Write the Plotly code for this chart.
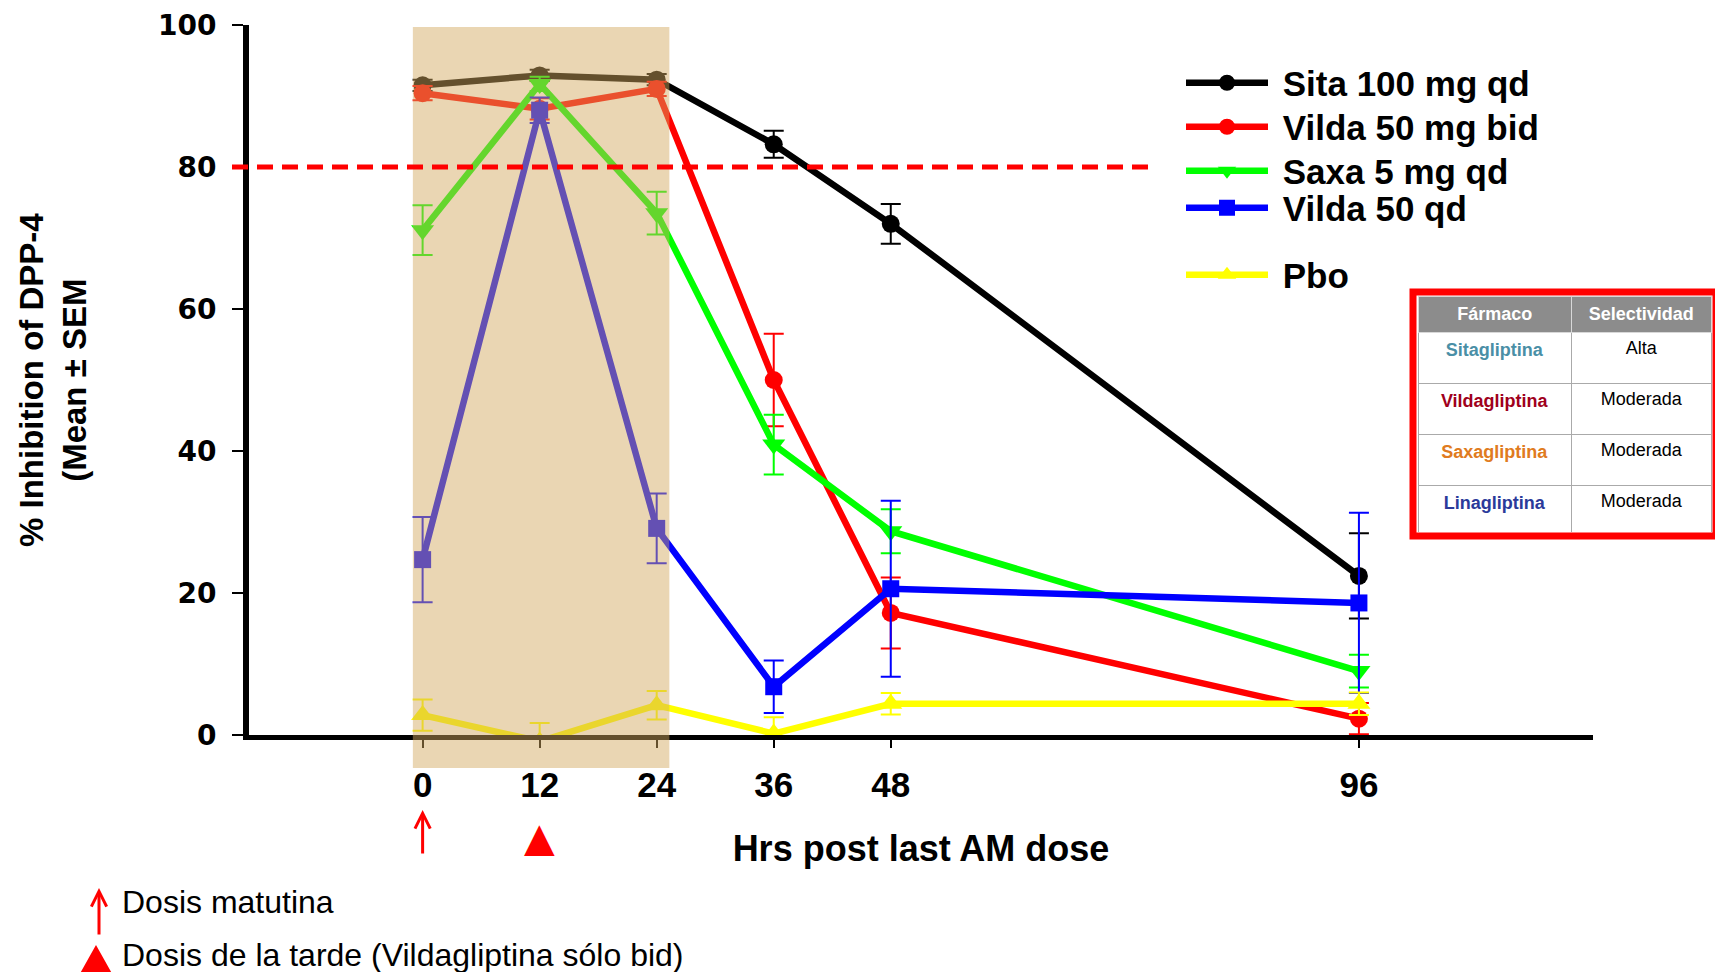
import plotly.graph_objects as go

# ---------------- data ----------------
hours = [0, 12, 24, 36, 48, 96]
x_tick_vals = [0, 12, 24, 36, 48, 96]
y_tick_vals = [0, 20, 40, 60, 80, 100]

sita = [91.5, 92.9, 92.3, 83.2, 72.0, 22.4]
sita_sem = [0.8, 0.8, 0.8, 1.9, 2.8, 6.0]
vilda_bid = [90.4, 88.2, 91.0, 50.0, 17.2, 2.3]
vilda_bid_sem = [1.0, 1.5, 1.0, 6.5, 5.0, 2.2]
saxa = [71.1, 91.7, 73.5, 40.9, 28.7, 9.0]
saxa_sem = [3.5, 1.0, 3.0, 4.2, 3.1, 2.3]
vilda_qd = [24.7, 88.0, 29.1, 6.8, 20.6, 18.6]
vilda_qd_sem = [6.0, 1.8, 4.9, 3.7, 12.4, 12.7]
pbo = [2.8, -0.9, 4.2, 0.2, 4.4, 4.4]
pbo_sem = [2.2, 2.6, 2.0, 2.3, 1.5, 1.6]

threshold = 80
shaded_hours = [-1.0, 25.3]
morning_dose_hour = 0
evening_dose_hour = 12

table_header = ["Fármaco", "Selectividad"]
farmacos = ["Sitagliptina", "Vildagliptina", "Saxagliptina", "Linagliptina"]
selectividad = ["Alta", "Moderada", "Moderada", "Moderada"]
farmaco_colors = ["#4a8fa6", "#a0001c", "#e07b20", "#2b3a9a"]

series = [
    ("Sita 100 mg qd", sita, sita_sem, "#000000", "circle", 18),
    ("Vilda 50 mg bid", vilda_bid, vilda_bid_sem, "#ff0000", "circle", 18),
    ("Saxa 5 mg qd", saxa, saxa_sem, "#00ff00", "triangle-down", 20),
    ("Vilda 50 qd", vilda_qd, vilda_qd_sem, "#0000ff", "square", 17),
    ("Pbo", pbo, pbo_sem, "#ffff00", "triangle-up", 20),
]
# screen y-centre of each legend row
legend_rows = [83, 127, 171, 208, 275]

# ---------------- layout geometry ----------------
# the page body has an 8px margin, so the figure is drawn 8px in from the corner
OFF = 8
W, H = 1723 - 2 * OFF, 980 - 2 * OFF
ML, MT = 249 - OFF, 25 - OFF
PH = 710
PW = 1464
MR = W - ML - PW
MB = H - MT - PH
AX_W = 1344


def px(xs):
    """screen x -> paper x"""
    return (xs - OFF - ML) / PW


def py(ys):
    """screen y -> paper y"""
    return (MT + PH - (ys - OFF)) / PH


fig = go.Figure()

for i, (name, vals, sem, color, symbol, size) in enumerate(series):
    fig.add_trace(go.Scatter(
        x=hours, y=vals, name="\u00a0" + name, mode="lines+markers",
        line=dict(color=color, width=6.5),
        marker=dict(symbol=symbol, size=size, color=color),
        error_y=dict(type="data", array=sem, visible=True, color=color,
                     thickness=2, width=10),
        legend="legend" if i == 0 else "legend%d" % (i + 1),
    ))

fig.add_trace(go.Table(
    domain=dict(x=[px(1418), px(1712)], y=[py(533), py(296)]),
    columnwidth=[155, 141],
    header=dict(
        values=["<b>%s</b>" % h for h in table_header],
        fill_color="#8c8c8c",
        line_color="#d8d8d8",
        font=dict(family="Liberation Sans", size=18, color="white"),
        align="center", height=33,
    ),
    cells=dict(
        values=[["<b>%s</b>" % f for f in farmacos], selectividad],
        fill_color="white",
        line_color="#aaaaaa",
        font=dict(family="Liberation Sans", size=18,
                  color=[farmaco_colors, ["black"] * len(selectividad)]),
        align="center", height=51,
    ),
))

shapes = [
    dict(type="rect", xref="x", yref="paper",
         x0=shaded_hours[0], x1=shaded_hours[1], y0=py(768), y1=py(27),
         fillcolor="rgb(210,168,95)", opacity=0.475, line=dict(width=0),
         layer="above"),
    dict(type="line", xref="paper", yref="y",
         x0=px(232), x1=px(1154), y0=threshold, y1=threshold,
         line=dict(color="#ff0000", width=5, dash="16px,9px"), layer="above"),
    dict(type="rect", xref="paper", yref="paper",
         x0=px(1413), x1=px(1716), y0=py(536), y1=py(292),
         line=dict(color="#ff0000", width=7), fillcolor="rgba(0,0,0,0)",
         layer="above"),
    # key triangle (evening dose)
    dict(type="path", xref="paper", yref="paper",
         path="M %f,%f L %f,%f L %f,%f Z" % (px(96), py(947), px(82), py(972),
                                              px(110), py(972)),
         fillcolor="#ff0000", line=dict(color="#ff0000", width=2), layer="above"),
]

annotations = [
    dict(text="% Inhibition of DPP-4<br>(Mean ± SEM", textangle=-90,
         xref="paper", yref="paper", x=px(53), y=py(380),
         xanchor="center", yanchor="middle", showarrow=False,
         font=dict(family="Liberation Sans", size=33, weight="bold", color="black")),
    # morning dose arrow under 0 h
    dict(text="", xref="x", yref="paper", x=morning_dose_hour, y=py(810),
         ax=0, ay=45, showarrow=True, arrowhead=5, arrowsize=1,
         arrowwidth=3, arrowcolor="#ff0000", standoff=0),
    # evening dose triangle under 12 h
    dict(text="▲", xref="x", yref="paper", x=evening_dose_hour, y=py(837),
         xanchor="center", yanchor="middle", showarrow=False,
         font=dict(family="DejaVu Sans", size=40, color="#ff0000")),
    # bottom key
    dict(text="", xref="paper", yref="paper", x=px(99), y=py(888),
         ax=0, ay=48, showarrow=True, arrowhead=5, arrowsize=1,
         arrowwidth=3, arrowcolor="#ff0000", standoff=0),
    dict(text="Dosis matutina", xref="paper", yref="paper", x=px(120), y=py(902),
         xanchor="left", yanchor="middle", showarrow=False,
         font=dict(family="Liberation Sans", size=32, color="black")),
    dict(text="Dosis de la tarde (Vildagliptina sólo bid)", xref="paper", yref="paper",
         x=px(120), y=py(955), xanchor="left", yanchor="middle", showarrow=False,
         font=dict(family="Liberation Sans", size=32, color="black")),
]

legend_font = dict(family="Liberation Sans", size=35, weight="bold", color="black")
legends = {}
for i, row_y in enumerate(legend_rows):
    key = "legend" if i == 0 else "legend%d" % (i + 1)
    legends[key] = dict(x=px(1181), y=py(row_y), xanchor="left", yanchor="middle",
                        font=legend_font, itemwidth=82, bgcolor="rgba(0,0,0,0)",
                        borderwidth=0)

fig.update_layout(
    width=W, height=H,
    margin=dict(l=ML, r=MR, t=MT, b=MB, pad=0, autoexpand=False),
    paper_bgcolor="white", plot_bgcolor="white",
    font=dict(family="Liberation Sans", color="black"),
    showlegend=True,
    xaxis=dict(domain=[0, AX_W / PW], range=[-17.8, 120], automargin=False,
               tickvals=x_tick_vals, ticktext=[str(v) for v in x_tick_vals],
               ticks="outside", ticklen=8, tickwidth=2, tickcolor="black",
               showline=True, linewidth=5, linecolor="black",
               showgrid=False, zeroline=False,
               tickfont=dict(family="Liberation Sans", size=35, weight="bold"),
               ticklabelstandoff=7,
               title=dict(text="Hrs post last AM dose", standoff=34,
                          font=dict(family="Liberation Sans", size=36, weight="bold"))),
    yaxis=dict(range=[0, 100], tickvals=y_tick_vals, automargin=False,
               ticks="outside", ticklen=11, tickwidth=2, tickcolor="black",
               showline=True, linewidth=6, linecolor="black",
               showgrid=False, zeroline=False, ticklabeloverflow="allow",
               tickfont=dict(family="DejaVu Sans", size=28, weight="bold"),
               ticklabelstandoff=10),
    shapes=shapes,
    annotations=annotations,
    **legends,
)

fig.write_html("out.html")
